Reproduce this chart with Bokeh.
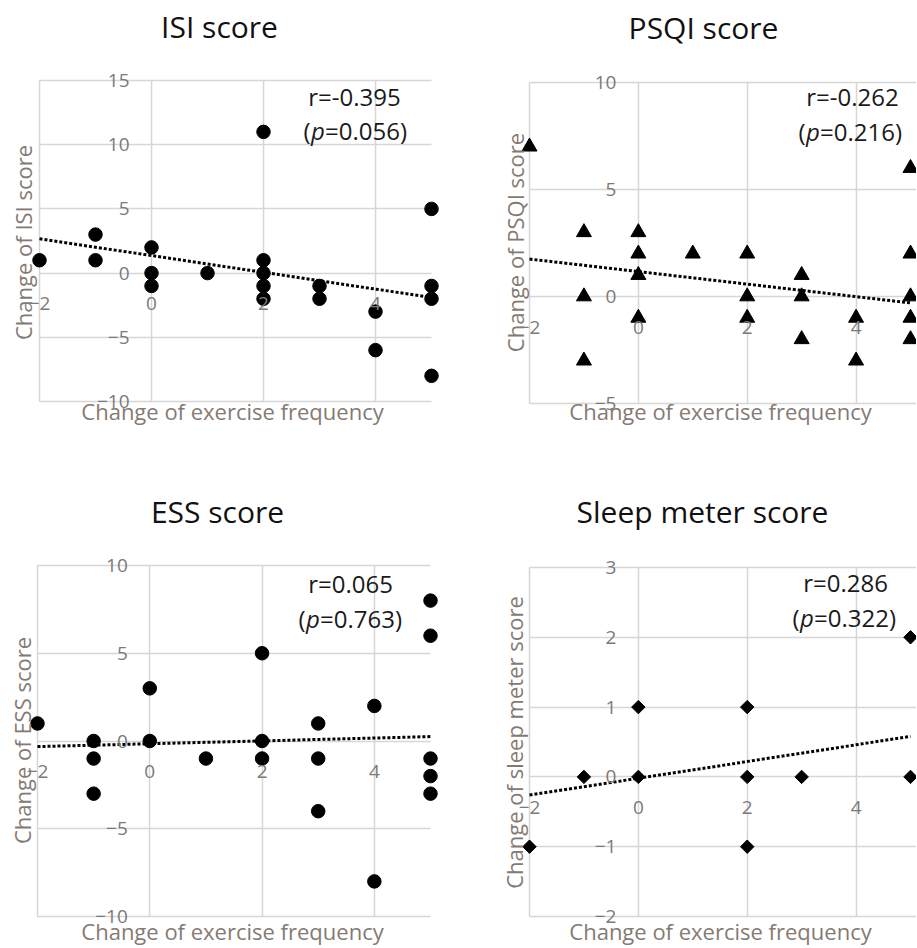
import math
from bokeh.plotting import figure
from bokeh.models import FixedTicker, Label
from bokeh.layouts import row, column
from bokeh.embed import file_html
from bokeh.resources import INLINE

FONT = "Open Sans"

# ---------------- data ----------------
x_ticks = [-2, 0, 2, 4]
x_lim = (-2, 5)
x_axis_title = "Change of exercise frequency"

isi_title = "ISI score"
isi_ylabel = "Change of ISI score"
isi_x = [-2, -1, -1, 0, 0, 0, 1, 2, 2, 2, 2, 2, 3, 3, 4, 4, 5, 5, 5, 5]
isi_y = [1, 3, 1, 2, 0, -1, 0, 11, 1, 0, -1, -2, -1, -2, -3, -6, 5, -1, -2, -8]
isi_trend_x = [-2, 5]
isi_trend_y = [2.67, -1.9]
isi_ylim = (-10, 15)
isi_yticks = [-10, -5, 0, 5, 10, 15]
isi_r = "r=-0.395"
isi_p = "=0.056)"

psqi_title = "PSQI score"
psqi_ylabel = "Change of PSQI score"
psqi_x = [-2, -1, -1, -1, 0, 0, 0, 0, 1, 2, 2, 2, 3, 3, 3, 4, 4, 5, 5, 5, 5, 5]
psqi_y = [7, 3, 0, -3, 3, 2, 1, -1, 2, 2, 0, -1, 1, 0, -2, -1, -3, 6, 2, 0, -1, -2]
psqi_trend_x = [-2, 5]
psqi_trend_y = [1.75, -0.3]
psqi_ylim = (-5, 10)
psqi_yticks = [-5, 0, 5, 10]
psqi_r = "r=-0.262"
psqi_p = "=0.216)"

ess_title = "ESS score"
ess_ylabel = "Change of ESS score"
ess_x = [-2, -1, -1, -1, 0, 0, 1, 2, 2, 2, 3, 3, 3, 4, 4, 5, 5, 5, 5, 5]
ess_y = [1, 0, -1, -3, 3, 0, -1, 5, 0, -1, 1, -1, -4, 2, -8, 8, 6, -1, -2, -3]
ess_trend_x = [-2, 5]
ess_trend_y = [-0.32, 0.25]
ess_ylim = (-10, 10)
ess_yticks = [-10, -5, 0, 5, 10]
ess_r = "r=0.065"
ess_p = "=0.763)"

sleep_title = "Sleep meter score"
sleep_ylabel = "Change of sleep meter score"
sleep_x = [-2, -1, 0, 0, 2, 2, 2, 3, 5, 5]
sleep_y = [-1, 0, 1, 0, 1, 0, -1, 0, 2, 0]
sleep_trend_x = [-2, 5]
sleep_trend_y = [-0.26, 0.58]
sleep_ylim = (-2, 3)
sleep_yticks = [-2, -1, 0, 1, 2, 3]
sleep_r = "r=0.286"
sleep_p = "=0.322)"

TICK_COLOR = "#7a7a7a"
LABEL_COLOR = "#857a72"
GRID_COLOR = "#d6d6d6"
TEXT_COLOR = "#1a1a1a"
BASE_SHIFT = 0.43  # empirical shift of the rendered alphabetic baseline (in em)


def panel(title, ylabel, xs, ys, tx, ty, yticks, ylim,
          box, data_px, grid_to_edge,
          marker, msize, angle,
          title_pos, xlabel_pos, ylabel_pos,
          r_text, p_text, r_pos, p_pos):
    # box: (page_x0, page_y0, width, height); the whole figure is the plot frame
    # data_px: page pixel of x_lim[0], x_lim[1], ylim[1] (top), ylim[0] (bottom)
    x0, y0, width, height = box
    px_l, px_r, py_t, py_b = data_px
    ux = (px_r - px_l) / (x_lim[1] - x_lim[0])
    uy = (py_b - py_t) / (ylim[1] - ylim[0])
    xr = (x_lim[0] - (px_l - x0) / ux, x_lim[1] + (x0 + width - px_r) / ux)
    yr = (ylim[0] - (y0 + height - py_b) / uy, ylim[1] + (py_t - y0) / uy)

    def dx(px):
        return x_lim[0] + (px - px_l) / ux

    def dy(py, fs=0):
        return ylim[1] - (py - BASE_SHIFT * fs - py_t) / uy

    p = figure(width=width, height=height, x_range=xr, y_range=yr,
               output_backend="svg", toolbar_location=None,
               min_border=0, outline_line_color=None)

    xt = FixedTicker(ticks=x_ticks)
    yt = FixedTicker(ticks=yticks)
    xa = p.below[0]
    ya = p.left[0]
    xa.ticker = xt
    ya.ticker = yt
    p.xgrid.ticker = xt
    p.ygrid.ticker = yt
    p.xgrid.grid_line_color = GRID_COLOR
    p.ygrid.grid_line_color = GRID_COLOR
    p.xgrid.grid_line_width = 1.5
    p.ygrid.grid_line_width = 1.5
    p.ygrid.cross_bounds = (x_lim[0], xr[1] if grid_to_edge else x_lim[1])
    p.xgrid.cross_bounds = (ylim[0], ylim[1])
    for ax, so in ((xa, 24), (ya, 22)):
        ax.fixed_location = 0
        ax.axis_line_color = None
        ax.major_tick_line_color = None
        ax.minor_tick_line_color = None
        ax.major_tick_out = 0
        ax.major_tick_in = 0
        ax.major_label_standoff = so
        ax.major_label_text_font = FONT
        ax.major_label_text_font_size = "19px"
        ax.major_label_text_color = TICK_COLOR

    p.line(tx, ty, line_color="black", line_width=3, line_dash="3 2")
    p.scatter(xs, ys, marker=marker, size=msize, angle=angle,
              fill_color="black", line_color="black")

    # chart title and axis titles
    p.add_layout(Label(x=dx(title_pos[0]), y=dy(title_pos[1], 30), text=title,
                       text_align="center", text_baseline="alphabetic",
                       text_font=FONT, text_font_size="30px", text_color="#111111"))
    p.add_layout(Label(x=dx(xlabel_pos[0]), y=dy(xlabel_pos[1], 22), text=x_axis_title,
                       text_align="center", text_baseline="alphabetic",
                       text_font=FONT, text_font_size="22px", text_color=LABEL_COLOR))
    p.add_layout(Label(x=dx(ylabel_pos[0]), y=dy(ylabel_pos[1]), text=ylabel,
                       angle=math.pi / 2, text_align="center", text_baseline="middle",
                       text_font=FONT, text_font_size="22px", text_color=LABEL_COLOR))

    # correlation annotation
    common = dict(text_font=FONT, text_font_size="24px", text_color=TEXT_COLOR,
                  text_baseline="alphabetic")
    p.add_layout(Label(x=dx(r_pos[0]), y=dy(r_pos[1], 24), text=r_text,
                       text_align="center", **common))
    pxl, pyb = p_pos
    p.add_layout(Label(x=dx(pxl), y=dy(pyb, 24), text="(", text_align="left", **common))
    p.add_layout(Label(x=dx(pxl + 7.5), y=dy(pyb, 24), text="p", text_align="left",
                       text_font_style="italic", **common))
    p.add_layout(Label(x=dx(pxl + 21.5), y=dy(pyb, 24), text=p_text, text_align="left", **common))
    return p


p1 = panel(isi_title, isi_ylabel, isi_x, isi_y, isi_trend_x, isi_trend_y, isi_yticks, isi_ylim,
           (0, 0, 460, 478), (39, 431, 80, 401), False,
           "circle", 13.5, 0,
           (219, 39), (232, 420), (22, 242),
           isi_r, isi_p, (354, 106), (303, 140))
p2 = panel(psqi_title, psqi_ylabel, psqi_x, psqi_y, psqi_trend_x, psqi_trend_y, psqi_yticks, psqi_ylim,
           (460, 0, 456, 478), (529, 910, 82, 403), True,
           "triangle", 15, 0,
           (703, 40), (720, 420), (514, 242),
           psqi_r, psqi_p, (852, 106), (798, 141))
p3 = panel(ess_title, ess_ylabel, ess_x, ess_y, ess_trend_x, ess_trend_y, ess_yticks, ess_ylim,
           (0, 478, 460, 470), (37, 430, 565, 916), False,
           "circle", 13.5, 0,
           (217, 524), (232, 940), (21, 740),
           ess_r, ess_p, (350, 593), (298, 628))
p4 = panel(sleep_title, sleep_ylabel, sleep_x, sleep_y, sleep_trend_x, sleep_trend_y, sleep_yticks, sleep_ylim,
           (460, 478, 456, 470), (529, 910, 567, 916), True,
           "square", 9.5, math.pi / 4,
           (702, 524), (720, 940), (513, 742),
           sleep_r, sleep_p, (845, 592), (792, 627))

layout = column(row(p1, p2), row(p3, p4))
open("out.html", "w").write(file_html(layout, INLINE))
